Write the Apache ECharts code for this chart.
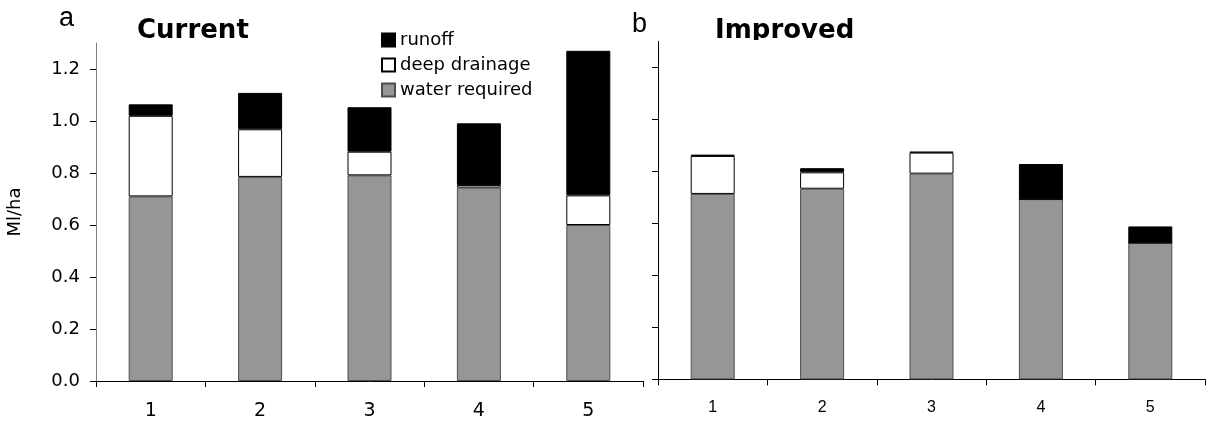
<!DOCTYPE html>
<html>
<head>
<meta charset="utf-8">
<script src="https://cdn.jsdelivr.net/npm/echarts@6/dist/echarts.min.js"></script>
<style>
html,body{margin:0;padding:0;background:#fff;}
#chart{width:1210px;height:423px;}
</style>
</head>
<body>
<div id="chart"></div>
<script>
// ---- data ----
var categories = ['1', '2', '3', '4', '5'];
var yTicks = [0, 0.2, 0.4, 0.6, 0.8, 1.0, 1.2];
var seriesNames = ['runoff', 'deep drainage', 'water required'];

var currentWater  = [0.710, 0.785, 0.791, 0.744, 0.600];
var currentDeep   = [0.310, 0.183, 0.091, 0.010, 0.114];
var currentRunoff = [0.044, 0.140, 0.171, 0.237, 0.556];

var improvedWater  = [0.713, 0.733, 0.791, 0.693, 0.525];
var improvedDeep   = [0.146, 0.063, 0.081, 0.000, 0.000];
var improvedRunoff = [0.005, 0.016, 0.003, 0.135, 0.063];

// ---- chart ----
var chart = echarts.init(document.getElementById('chart'), null, {renderer: 'canvas'});
var F = 'DejaVu Sans';

var styles = {
  'water required': {color: '#969696', borderColor: '#4d4d4d', borderWidth: 1},
  'deep drainage': {color: '#ffffff', borderColor: '#000000', borderWidth: 1},
  'runoff': {color: '#000000', borderColor: '#000000', borderWidth: 1}
};

function bar(name, data, idx, stack) {
  return {
    name: name, type: 'bar', stack: stack, data: data,
    xAxisIndex: idx, yAxisIndex: idx, barWidth: 44,
    itemStyle: styles[name], emphasis: {disabled: true}
  };
}

function yAxis(idx, showLabels, lineColor) {
  return {
    type: 'value', gridIndex: idx, min: 0, max: 1.3, interval: 0.1,
    axisLine: {show: true, lineStyle: {color: lineColor, width: 1}},
    axisTick: {show: true, length: 6, inside: false, customValues: yTicks, lineStyle: {color: '#000'}},
    axisLabel: {show: showLabels, customValues: yTicks, margin: 16,
      formatter: function (v) { return Number(v).toFixed(1); },
      fontFamily: F, fontSize: 18, color: '#000'},
    splitLine: {show: false},
    name: showLabels ? 'Ml/ha' : '', nameLocation: 'middle', nameGap: 72,
    nameTextStyle: {fontFamily: F, fontSize: 18, color: '#000'}
  };
}

function xAxis(idx, font, size, margin) {
  return {
    type: 'category', gridIndex: idx, data: categories, boundaryGap: true,
    axisLine: {show: true, lineStyle: {color: '#000', width: 1}},
    axisTick: {show: true, length: 6, alignWithLabel: false, lineStyle: {color: '#000'}},
    axisLabel: {fontFamily: font, fontSize: size, color: '#000', margin: margin, lineHeight: size},
    splitLine: {show: false}
  };
}

var option = {
  animation: false,
  backgroundColor: '#fff',
  grid: [
    {left: 96, top: 43, width: 547, height: 338},
    {left: 658, top: 41.3, width: 547, height: 338}
  ],
  xAxis: [xAxis(0, F, 19, 21), xAxis(1, 'Liberation Sans', 16, 20)],
  yAxis: [yAxis(0, true, '#808080'), yAxis(1, false, '#000')],
  legend: {
    data: seriesNames, orient: 'vertical', left: 381, top: 31,
    itemWidth: 13, itemHeight: 13, itemGap: 7, padding: 0, icon: 'rect',
    selectedMode: false,
    textStyle: {fontFamily: F, fontSize: 18, color: '#000', lineHeight: 18}
  },
  series: [
    bar('water required', currentWater, 0, 'L'),
    bar('deep drainage', currentDeep, 0, 'L'),
    bar('runoff', currentRunoff, 0, 'L'),
    bar('water required', improvedWater, 1, 'R'),
    bar('deep drainage', improvedDeep, 1, 'R'),
    bar('runoff', improvedRunoff, 1, 'R')
  ],
  graphic: [
    {type: 'text', x: 59, y: 19, style: {text: 'a', font: '27px "Liberation Sans"', fill: '#000', verticalAlign: 'middle'}},
    {type: 'text', x: 632, y: 25, style: {text: 'b', font: '27px "Liberation Sans"', fill: '#000', verticalAlign: 'middle'}},
    {type: 'text', x: 137, y: 31.5, style: {text: 'Current', font: 'bold 26px "DejaVu Sans"', fill: '#000', verticalAlign: 'middle'}},
    {type: 'text', x: 715, y: 31.7, style: {text: 'Improved', font: 'bold 26px "DejaVu Sans"', fill: '#000', verticalAlign: 'middle'}, z: 10},
    {type: 'rect', shape: {x: 705, y: 40, width: 170, height: 8}, style: {fill: '#fff'}, z: 20}
  ]
};
chart.setOption(option);
</script>
</body>
</html>
